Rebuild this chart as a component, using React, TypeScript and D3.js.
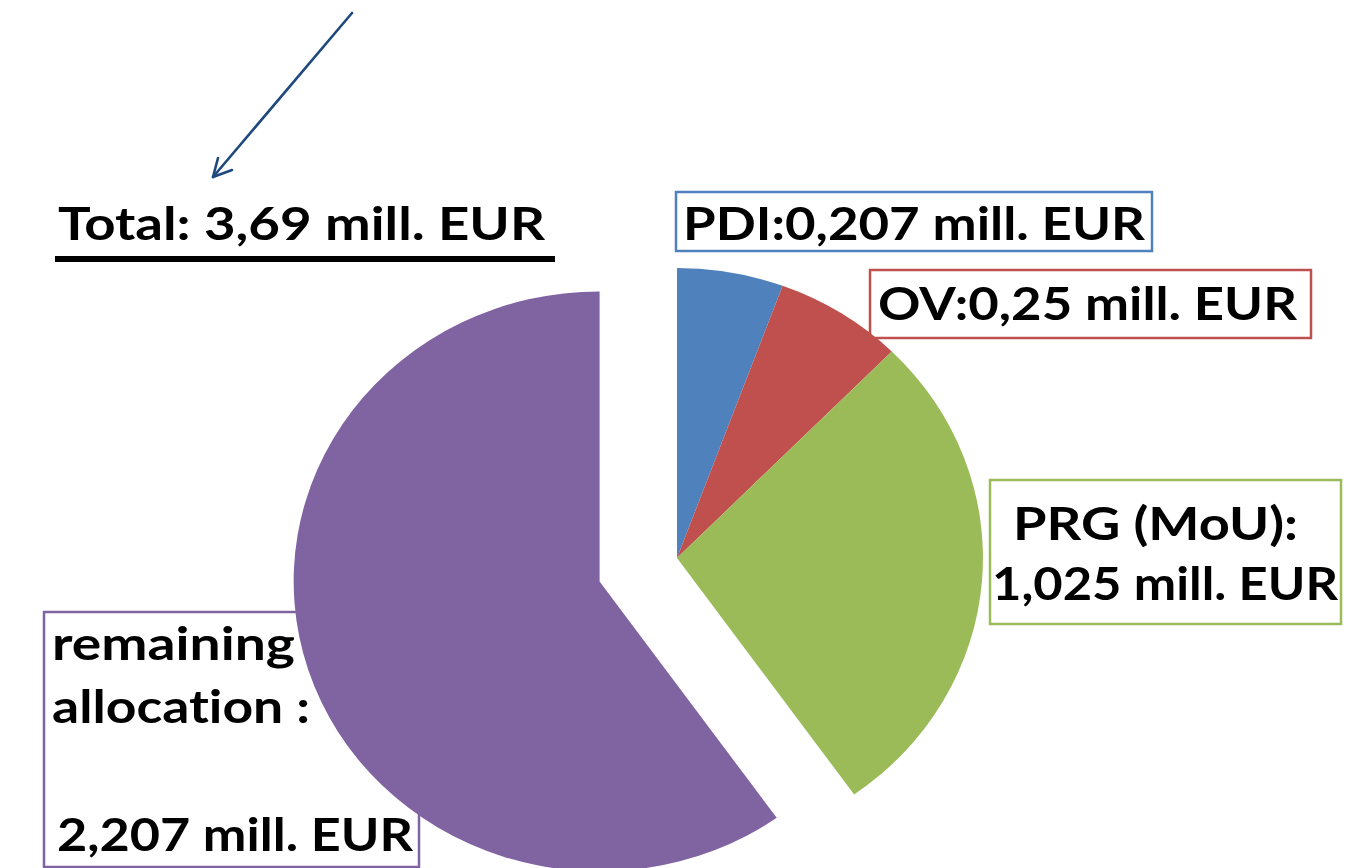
import React from "react";
import * as d3 from "d3";

// ---- data ----
const categories = ["PDI", "OV", "PRG (MoU)", "remaining allocation"];
const values = [0.207, 0.25, 1.025, 2.207];
const colors = ["#4f81bd", "#c0504d", "#9bbb59", "#8064a2"];
const labelLines = [
  ["PDI:0,207 mill. EUR"],
  ["OV:0,25 mill. EUR"],
  ["PRG (MoU):", "1,025 mill. EUR"],
  ["remaining", "allocat\u200Cion :", "", "2,207 mill. EUR"],
];
const totalLabel = "Total: 3,69 mill. EUR";
const explodedIndex = 3;

// ---- layout ----
const W = 1347;
const H = 868;
const CX = 677;
const CY = 558;
const R = 290;
const SX = 1.055;
const EXPLODE = 77;
const FONT = "Lato, 'Open Sans', sans-serif";
const FS = 46;

type Box = { x: number; y: number; w: number; h: number; lines: { x: number; y: number; w: number }[] };
const boxes: Box[] = [
  { x: 676, y: 192, w: 476, h: 59, lines: [{ x: 683, y: 240, w: 462 }] },
  { x: 870, y: 270, w: 441, h: 68, lines: [{ x: 878, y: 320, w: 419 }] },
  {
    x: 990, y: 480, w: 351, h: 144,
    lines: [
      { x: 1013, y: 540, w: 285 },
      { x: 992, y: 600, w: 346 },
    ],
  },
  {
    x: 44, y: 612, w: 375, h: 255,
    lines: [
      { x: 52, y: 660, w: 243 },
      { x: 52, y: 723, w: 258 },
      { x: 52, y: 786, w: 10 },
      { x: 57, y: 851, w: 356 },
    ],
  },
];

const textStyle: React.CSSProperties = { fontVariantLigatures: "none", fontKerning: "normal" };

export default function App() {
  const pie = d3.pie<number>().sort(null).value((d) => d).startAngle(0).endAngle(2 * Math.PI);
  const arcs = pie(values);
  const arcGen = d3.arc<d3.PieArcDatum<number>>().innerRadius(0).outerRadius(R);

  return (
    <svg
      width={W}
      height={H}
      viewBox={`0 0 ${W} ${H}`}
      style={{ position: "absolute", left: 0, top: 0, display: "block", background: "#fff" }}
    >
      <rect x={0} y={0} width={W} height={H} fill="#fff" />

      {/* arrow */}
      <g stroke="#1f497d" strokeWidth={2.6} fill="none" strokeLinecap="round" strokeLinejoin="round">
        <path d="M352,13 L213,177" />
        <path d="M218,158 L213,177 L232,170" />
      </g>

      {/* total */}
      <text
        x={58}
        y={240}
        fontFamily={FONT}
        fontWeight={700}
        fontSize={FS}
        textLength={487}
        lengthAdjust="spacingAndGlyphs"
        fill="#000"
        style={textStyle}
      >
        {totalLabel}
      </text>
      <rect x={55} y={256} width={500} height={6} fill="#000" />

      {/* label boxes */}
      {boxes.map((b, i) => (
        <g key={categories[i]}>
          <rect x={b.x} y={b.y} width={b.w} height={b.h} fill="#fff" stroke={colors[i]} strokeWidth={2.5} />
          {labelLines[i].map((t, j) =>
            t ? (
              <text
                key={j}
                x={b.lines[j].x}
                y={b.lines[j].y}
                fontFamily={FONT}
                fontWeight={700}
                fontSize={FS}
                textLength={b.lines[j].w}
                lengthAdjust="spacingAndGlyphs"
                fill="#000"
                style={textStyle}
              >
                {t}
              </text>
            ) : null
          )}
        </g>
      ))}

      {/* pie */}
      <g transform={`translate(${CX},${CY}) scale(${SX},1)`}>
        {arcs.map((a, i) => {
          const mid = (a.startAngle + a.endAngle) / 2;
          const d = i === explodedIndex ? EXPLODE : 0;
          const tx = Math.sin(mid) * d;
          const ty = -Math.cos(mid) * d;
          return (
            <path
              key={categories[i]}
              d={arcGen(a) || ""}
              transform={`translate(${tx},${ty})`}
              fill={colors[i]}
            />
          );
        })}
      </g>
    </svg>
  );
}
